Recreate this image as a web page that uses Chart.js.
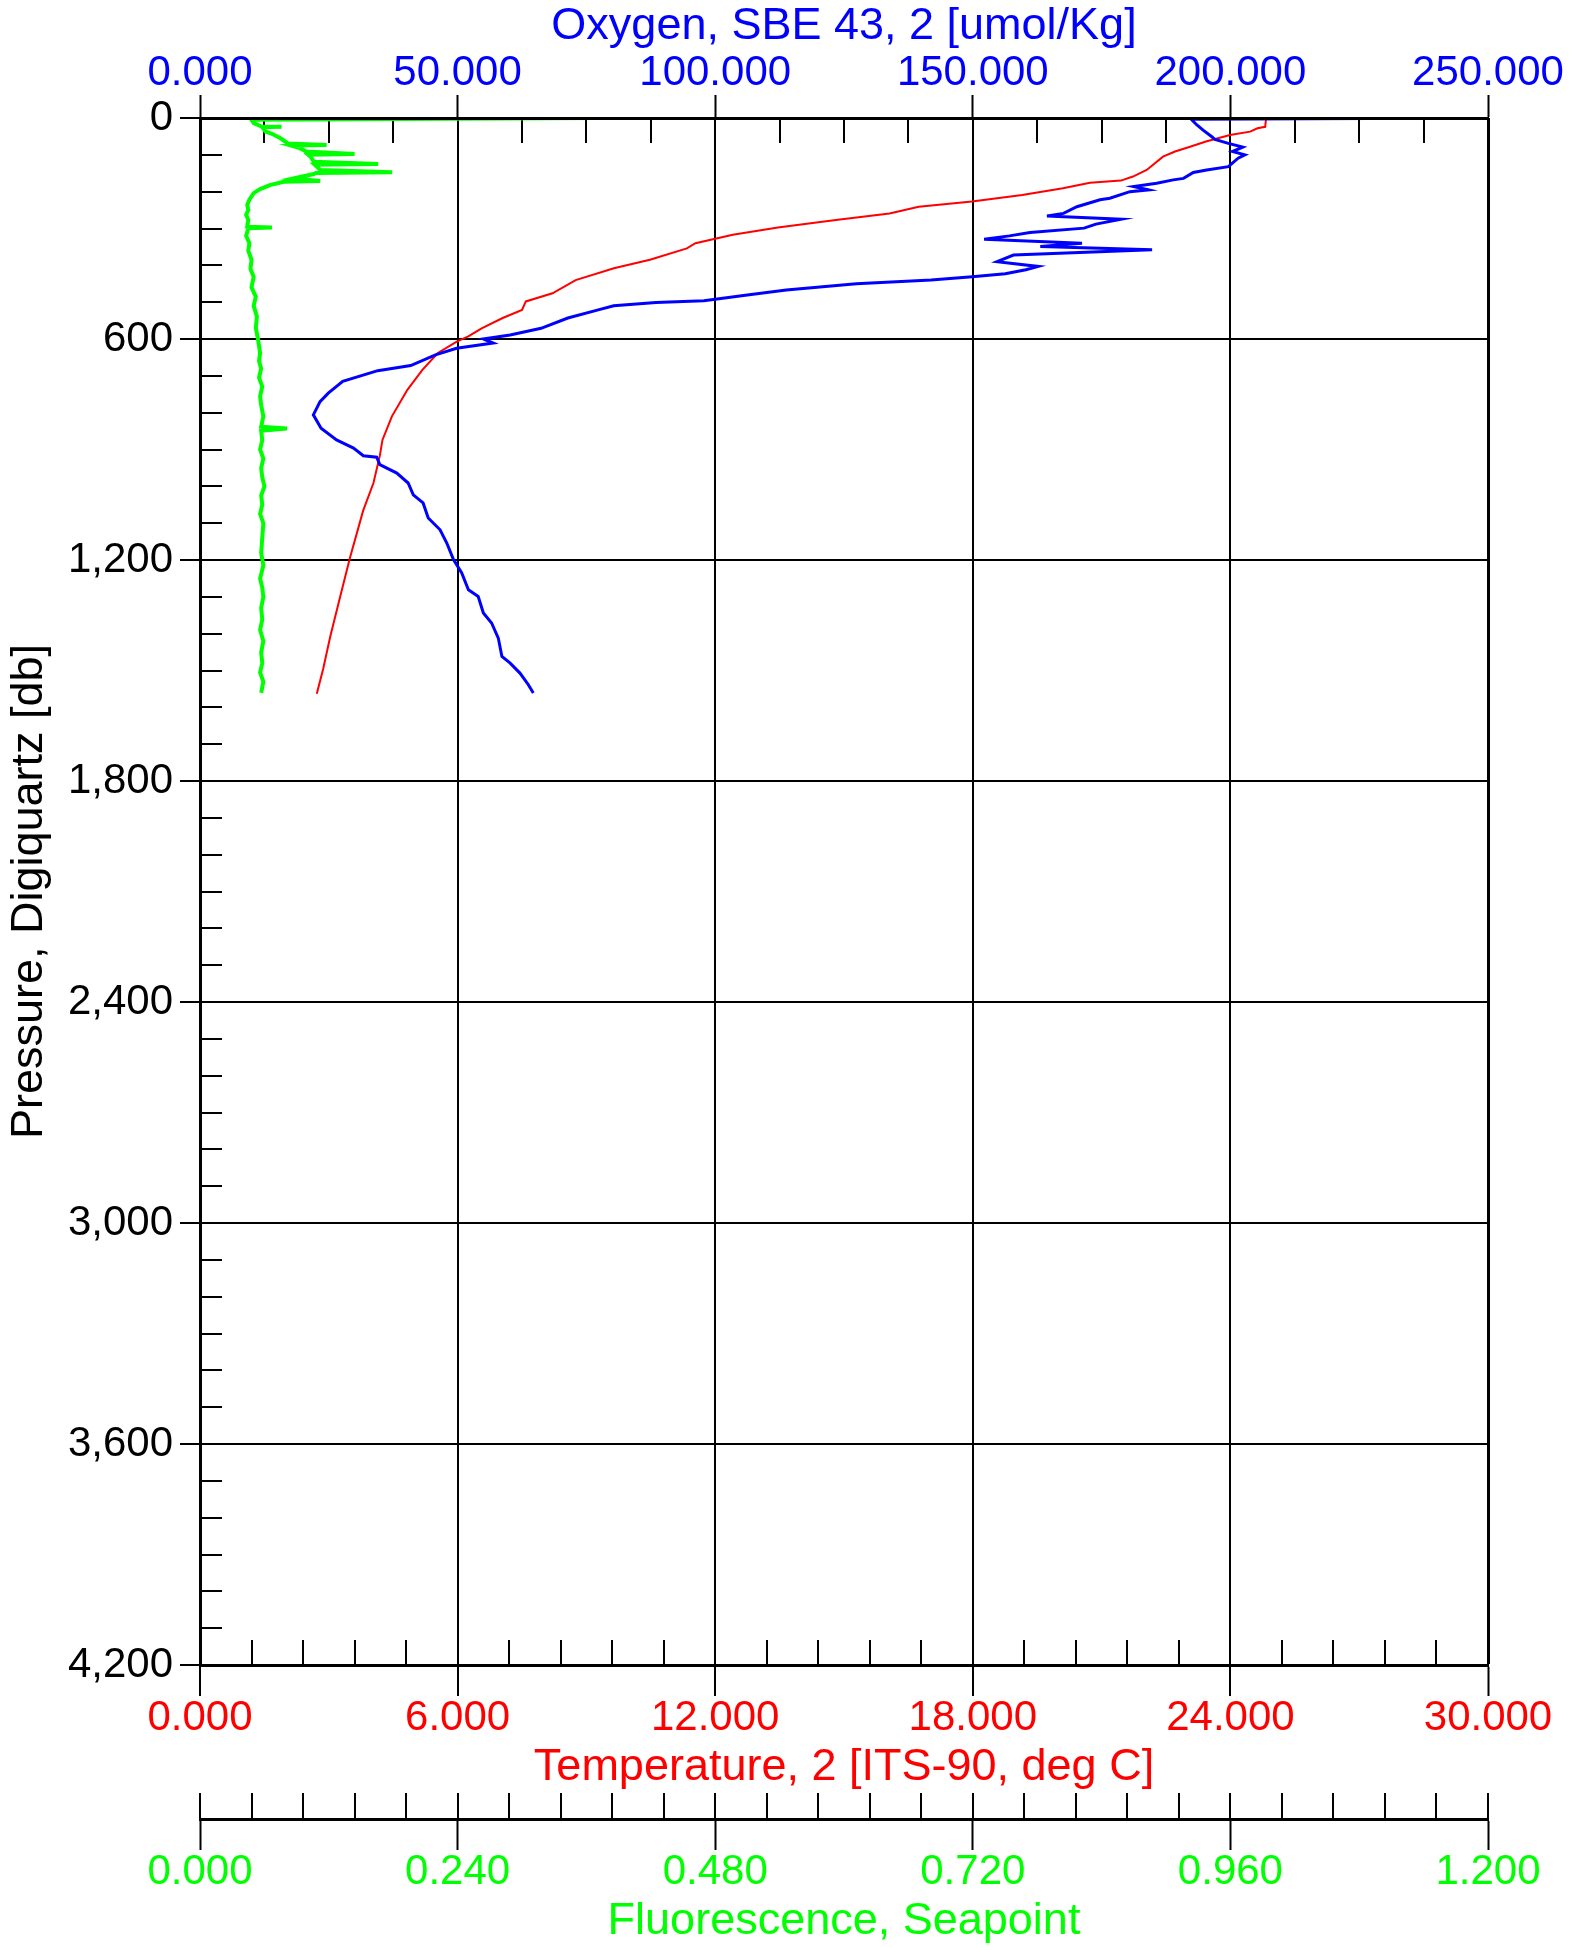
<!DOCTYPE html>
<html>
<head>
<meta charset="utf-8">
<title>CTD profile</title>
<script src="https://cdn.jsdelivr.net/npm/chart.js@4/dist/chart.umd.min.js"></script>
<style>
  html, body { margin: 0; padding: 0; background: #fff; }
  canvas { display: block; }
</style>
</head>
<body>
<canvas id="perfilChart" width="1580" height="1947"></canvas>
<script>
// tick labels of the four axes
const pressureTicks = [0, 600, 1200, 1800, 2400, 3000, 3600, 4200];
const tempTicks = [0, 6, 12, 18, 24, 30];
const oxyTicks = [0, 50, 100, 150, 200, 250];
const fluoTicks = [0, 0.24, 0.48, 0.72, 0.96, 1.2];

// Temperature, 2 [ITS-90, deg C]
const tempPressure = [0, 2, 24, 28, 37, 46, 64, 78, 91, 105, 141, 159, 170, 176, 191, 209, 227, 241, 259, 277,
  297, 317, 340, 354, 385, 408, 440, 476, 498, 521, 543, 571, 593, 607, 638, 684, 738, 810, 874, 916,
  991, 1066, 1195, 1302, 1410, 1495, 1563];
const tempValues = [30.0, 24.83, 24.81, 24.63, 24.46, 23.99, 23.43, 23.06, 22.71, 22.43, 22.05, 21.73, 21.45, 20.73, 20.10, 19.15, 17.98, 16.74, 16.06, 14.81,
  13.46, 12.41, 11.54, 11.34, 10.48, 9.64, 8.75, 8.21, 7.59, 7.50, 7.05, 6.56, 6.25, 5.98, 5.54, 5.18, 4.83, 4.47, 4.25, 4.19,
  4.04, 3.80, 3.49, 3.26, 3.03, 2.87, 2.72];

// Oxygen, SBE 43, 2 [umol/Kg]
const oxyPressure = [0, 0, 3.5, 19, 33, 51, 58, 69, 79, 91, 100, 109, 132, 141, 148, 164, 168, 177, 186, 195,
  200, 218, 222, 241, 259, 266, 275, 288, 299, 311, 320, 329, 340, 349, 358, 372, 390, 403, 412, 423,
  431, 440, 450, 467, 480, 496, 501, 510, 521, 543, 571, 589, 600, 611, 625, 643, 672, 686, 715, 747,
  770, 806, 842, 874, 896, 917, 921, 941, 964, 991, 1023, 1045, 1086, 1118, 1154, 1199, 1235, 1281, 1299, 1344,
  1371, 1412, 1462, 1480, 1507, 1538, 1561];
const oxyValues = [155, 250, 192.4, 193.5, 194.7, 196.4, 197.0, 199.6, 202.4, 200.4, 202.8, 201.5, 199.6, 195.4, 192.8, 190.9, 188.9, 185.7, 181.2, 184.1,
  180.5, 176.6, 174.7, 170.2, 167.6, 164.4, 178.8, 173.9, 171.6, 161.1, 157.1, 152.2, 171.2, 163.1, 184.8, 157.9, 154.7, 162.7, 160.3, 156.3,
  149.9, 141.9, 127.4, 113.8, 106.6, 97.8, 88.5, 80.3, 77.3, 71.4, 66.2, 60.2, 55.0, 56.9, 49.8, 45.7, 40.9, 34.5, 27.7, 24.9,
  23.3, 22.0, 23.5, 26.5, 29.8, 31.7, 34.3, 34.9, 38.2, 40.4, 41.4, 43.3, 44.3, 46.6, 47.9, 49.2, 50.8, 52.1, 54.0, 55.0,
  56.6, 57.9, 58.6, 60.2, 62.1, 63.7, 64.7];

// Fluorescence, Seapoint
const fluoPressure = [0, 5, 14, 24, 24, 25, 37, 43, 55, 69, 73, 75, 82, 91, 98, 100, 105, 119, 125, 127,
  132, 141, 147, 149, 152, 164, 171, 173, 182, 193, 204, 222, 236, 250, 263, 277, 295, 297, 299, 320,
  340, 360, 385, 410, 431, 460, 485, 510, 539, 570, 600, 638, 660, 680, 705, 729, 755, 780, 810, 838,
  843, 849, 875, 900, 925, 950, 975, 1000, 1025, 1050, 1075, 1100, 1140, 1181, 1215, 1250, 1275, 1300, 1330, 1362,
  1390, 1420, 1450, 1480, 1505, 1530, 1561];
const fluoValues = [0.370, 0.048, 0.050, 0.058, 0.076, 0.058, 0.061, 0.067, 0.075, 0.082, 0.118, 0.085, 0.093, 0.099, 0.144, 0.101, 0.103, 0.106, 0.166, 0.107,
  0.109, 0.112, 0.179, 0.108, 0.106, 0.087, 0.112, 0.078, 0.065, 0.056, 0.050, 0.046, 0.044, 0.045, 0.043, 0.045, 0.044, 0.067, 0.045, 0.043,
  0.046, 0.045, 0.048, 0.047, 0.050, 0.048, 0.052, 0.050, 0.053, 0.052, 0.054, 0.056, 0.055, 0.057, 0.055, 0.058, 0.056, 0.057, 0.059, 0.057,
  0.081, 0.057, 0.058, 0.056, 0.059, 0.057, 0.058, 0.060, 0.057, 0.058, 0.056, 0.059, 0.058, 0.057, 0.059, 0.056, 0.058, 0.059, 0.057, 0.058,
  0.056, 0.059, 0.057, 0.058, 0.056, 0.059, 0.057];

const FUENTE = 'Liberation Sans, Arial, sans-serif';
const ROJO = '#ff0000';
const AZUL = '#0000ff';
const VERDE = '#00ff00';

function puntos(presiones, valores) {
  return presiones.map((p, i) => ({ x: valores[i], y: p }));
}

function fijarTicks(lista) {
  return function(scale) {
    scale.ticks = lista.map(v => ({ value: v }));
  };
}

// minor ticks pointing into the plot (and above the fluorescence axis line)
const marcasMenores = {
  id: 'marcasMenores',
  beforeDatasetsDraw(chart) {
    const { ctx, chartArea: area, scales } = chart;
    ctx.save();
    ctx.strokeStyle = '#000';
    ctx.lineWidth = 2;
    ctx.beginPath();
    // pressure, every 100 db
    for (let i = 1; i < 42; i++) {
      if (i % 6 === 0) continue;
      const y = Math.round(scales.y.getPixelForValue(i * 100));
      ctx.moveTo(area.left, y);
      ctx.lineTo(area.left + 22, y);
    }
    // oxygen, 4 per major
    for (let i = 1; i < 20; i++) {
      if (i % 4 === 0) continue;
      const x = Math.round(scales.xO.getPixelForValue(i * 12.5));
      ctx.moveTo(x, area.top);
      ctx.lineTo(x, area.top + 25);
    }
    // temperature, 5 per major
    for (let i = 1; i < 25; i++) {
      if (i % 5 === 0) continue;
      const x = Math.round(scales.xT.getPixelForValue(i * 1.2));
      ctx.moveTo(x, area.bottom - 25);
      ctx.lineTo(x, area.bottom);
    }
    // fluorescence, all ticks reach above the axis line
    const yF = scales.xF.top;
    for (let i = 0; i <= 25; i++) {
      const x = Math.round(scales.xF.getPixelForValue(i * 0.048));
      ctx.moveTo(x, yF - 26);
      ctx.lineTo(x, yF);
    }
    ctx.stroke();
    ctx.restore();
  }
};

const ctx = document.getElementById('perfilChart').getContext('2d');

new Chart(ctx, {
  type: 'scatter',
  data: {
    datasets: [
      {
        label: 'Oxygen',
        data: puntos(oxyPressure, oxyValues),
        xAxisID: 'xO',
        yAxisID: 'y',
        showLine: true,
        borderColor: AZUL,
        borderWidth: 3,
        pointRadius: 0,
        tension: 0
      },
      {
        label: 'Temperature',
        data: puntos(tempPressure, tempValues),
        xAxisID: 'xT',
        yAxisID: 'y',
        showLine: true,
        borderColor: ROJO,
        borderWidth: 2,
        pointRadius: 0,
        tension: 0
      },
      {
        label: 'Fluorescence',
        data: puntos(fluoPressure, fluoValues),
        xAxisID: 'xF',
        yAxisID: 'y',
        showLine: true,
        borderColor: VERDE,
        borderWidth: 4,
        pointRadius: 0,
        tension: 0
      }
    ]
  },
  options: {
    responsive: false,
    animation: false,
    devicePixelRatio: 1,
    layout: { padding: { top: 4, left: 4, right: 92, bottom: 2.5 } },
    plugins: {
      legend: { display: false },
      tooltip: { enabled: false }
    },
    scales: {
      y: {
        type: 'linear',
        position: 'left',
        reverse: true,
        min: 0,
        max: 4200,
        afterBuildTicks: fijarTicks(pressureTicks),
        afterFit: s => { s.width = 196; },
        grid: { color: '#000', lineWidth: 2, tickLength: 20, tickWidth: 2 },
        border: { color: '#000', width: 3, z: 1 },
        ticks: {
          color: '#000',
          padding: 7,
          font: { family: FUENTE, size: 42, lineHeight: 1 },
          callback: v => v.toLocaleString('en-US')
        },
        title: {
          display: true,
          text: 'Pressure, Digiquartz [db]',
          color: '#000',
          padding: { top: 3.5, bottom: 0 },
          font: { family: FUENTE, size: 45, lineHeight: 1 }
        }
      },
      xO: {
        type: 'linear',
        position: 'top',
        min: 0,
        max: 250,
        afterBuildTicks: fijarTicks(oxyTicks),
        afterFit: s => { s.height = 114; },
        grid: { drawOnChartArea: false, color: '#000', tickLength: 23, tickWidth: 2 },
        border: { color: '#000', width: 3, z: 1 },
        ticks: {
          color: AZUL,
          padding: 1,
          maxRotation: 0,
          font: { family: FUENTE, size: 42, lineHeight: 1 },
          callback: v => v.toFixed(3)
        },
        title: {
          display: true,
          text: 'Oxygen, SBE 43, 2 [umol/Kg]',
          color: AZUL,
          padding: { top: 0, bottom: 4 },
          font: { family: FUENTE, size: 45, lineHeight: 1 }
        }
      },
      xT: {
        type: 'linear',
        position: 'bottom',
        weight: 0,
        min: 0,
        max: 30,
        afterBuildTicks: fijarTicks(tempTicks),
        afterFit: s => { s.height = 154; },
        grid: {
          color: '#000',
          lineWidth: c => (c.tick && c.tick.value === 30 ? 3 : 2),
          tickLength: 31,
          tickWidth: 2
        },
        border: { color: '#000', width: 3, z: 1 },
        ticks: {
          color: ROJO,
          padding: 1,
          maxRotation: 0,
          font: { family: FUENTE, size: 42, lineHeight: 1 },
          callback: v => v.toFixed(3)
        },
        title: {
          display: true,
          text: 'Temperature, 2 [ITS-90, deg C]',
          color: ROJO,
          padding: { top: 5.5, bottom: 28.5 },
          font: { family: FUENTE, size: 45, lineHeight: 1 }
        }
      },
      xF: {
        type: 'linear',
        position: 'bottom',
        weight: 1,
        min: 0,
        max: 1.2,
        afterBuildTicks: fijarTicks(fluoTicks),
        afterFit: s => { s.height = 125.5; },
        grid: { drawOnChartArea: false, color: '#000', tickLength: 31, tickWidth: 2 },
        border: { color: '#000', width: 3, z: 1 },
        ticks: {
          color: VERDE,
          padding: 1,
          maxRotation: 0,
          font: { family: FUENTE, size: 42, lineHeight: 1 },
          callback: v => v.toFixed(3)
        },
        title: {
          display: true,
          text: 'Fluorescence, Seapoint',
          color: VERDE,
          padding: { top: 5.5, bottom: 0 },
          font: { family: FUENTE, size: 45, lineHeight: 1 }
        }
      }
    }
  },
  plugins: [marcasMenores]
});
</script>
</body>
</html>
